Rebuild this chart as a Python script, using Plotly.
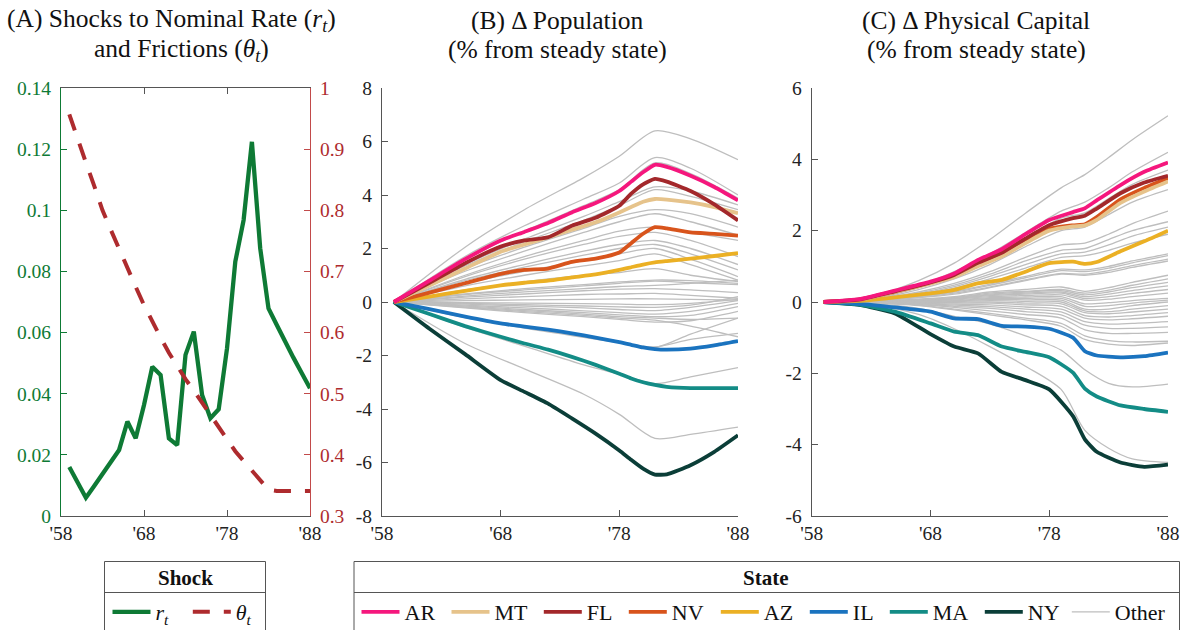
import plotly.graph_objects as go

W, H = 1185, 630
FONT = "Liberation Serif"

# ---------------- Panel A data ----------------
YEARS_A = list(range(1959, 1989))
R_T = [0.016, 0.011, 0.006, 0.0098, 0.0138, 0.0178, 0.0216, 0.0309, 0.0254, 0.0363,
       0.0488, 0.0461, 0.0254, 0.0232, 0.0527, 0.0603, 0.0396, 0.032, 0.0349, 0.0548,
       0.0832, 0.0968, 0.1224, 0.0876, 0.0679, 0.0625, 0.057, 0.0518, 0.0468, 0.0418]
THETA_T = [0.957, 0.915, 0.878, 0.840, 0.800, 0.768, 0.736, 0.706, 0.675, 0.645,
           0.617, 0.592, 0.567, 0.545, 0.524, 0.505, 0.485, 0.465, 0.445, 0.425,
           0.406, 0.390, 0.375, 0.360, 0.343, 0.341, 0.341, 0.341, 0.341, 0.341]

# ---------------- Panel B data (population, % from steady state) ----------------
HB_YEARS = [1959, 1962, 1965, 1968, 1970, 1972, 1974, 1976, 1978, 1979, 1980, 1981, 1982, 1984, 1986, 1988]
POP_AR = [0, 0.8, 1.6, 2.3, 2.62, 2.95, 3.35, 3.7, 4.15, 4.5, 4.85, 5.13, 5.05, 4.72, 4.3, 3.8]
POP_MT = [0, 0.62, 1.25, 1.88, 2.15, 2.42, 2.7, 2.98, 3.35, 3.55, 3.75, 3.85, 3.83, 3.72, 3.55, 3.32]
POP_FL = [0, 0.72, 1.45, 2.07, 2.3, 2.42, 2.85, 3.15, 3.6, 4.05, 4.4, 4.6, 4.5, 4.15, 3.65, 3.05]
POP_NV = [0, 0.35, 0.7, 1.05, 1.2, 1.25, 1.5, 1.62, 1.85, 2.2, 2.55, 2.8, 2.75, 2.6, 2.55, 2.48]
POP_AZ = [0, 0.2, 0.42, 0.62, 0.72, 0.8, 0.92, 1.03, 1.2, 1.3, 1.4, 1.48, 1.53, 1.62, 1.72, 1.83]
POP_IL = [0, -0.27, -0.55, -0.8, -0.92, -1.03, -1.17, -1.33, -1.5, -1.6, -1.7, -1.76, -1.78, -1.74, -1.62, -1.46]
POP_MA = [0, -0.45, -0.9, -1.3, -1.55, -1.78, -2.05, -2.35, -2.68, -2.86, -3.0, -3.1, -3.17, -3.22, -3.22, -3.22]
POP_NY = [0, -1.0, -1.95, -2.92, -3.36, -3.8, -4.35, -4.92, -5.55, -5.9, -6.23, -6.45, -6.44, -6.1, -5.6, -4.98]

GB_YEARS = [1959, 1965, 1970, 1975, 1978, 1981, 1984, 1988]
POP_OTHER = [
    [0, 2.05, 3.45, 4.65, 5.45, 6.4, 6.1, 5.32],
    [0, 1.7, 2.85, 3.85, 4.45, 5.4, 5.0, 4.0],
    [0, 1.6, 2.65, 3.6, 4.2, 5.2, 4.8, 3.88],
    [0, 1.4, 2.35, 3.2, 3.75, 4.3, 4.15, 3.63],
    [0, 1.35, 2.25, 3.05, 3.6, 4.2, 3.95, 3.45],
    [0, 1.25, 2.05, 2.75, 3.2, 3.45, 3.3, 2.8],
    [0, 1.15, 1.9, 2.6, 3.0, 3.3, 3.0, 2.5],
    [0, 1.0, 1.7, 2.3, 2.65, 2.8, 2.6, 2.3],
    [0, 0.95, 1.6, 2.15, 2.45, 2.6, 2.3, 1.7],
    [0, 0.85, 1.4, 1.9, 2.15, 2.3, 2.0, 1.4],
    [0, 0.8, 1.3, 1.75, 2.0, 2.15, 1.8, 1.2],
    [0, 0.7, 1.15, 1.55, 1.8, 2.0, 1.6, 0.95],
    [0, 0.6, 1.0, 1.35, 1.55, 1.8, 1.4, 0.82],
    [0, 0.45, 0.75, 1.0, 1.1, 1.25, 1.0, 0.76],
    [0, 0.3, 0.5, 0.65, 0.75, 0.82, 0.8, 0.7],
    [0, 0.28, 0.45, 0.6, 0.7, 0.78, 0.72, 0.65],
    [0, 0.22, 0.38, 0.5, 0.58, 0.62, 0.7, 0.82],
    [0, 0.18, 0.3, 0.42, 0.48, 0.5, 0.45, 0.35],
    [0, 0.12, 0.2, 0.28, 0.3, 0.32, 0.25, 0.14],
    [0, 0.05, 0.08, 0.1, 0.12, 0.12, 0.1, 0.07],
    [0, -0.02, -0.04, -0.06, -0.08, -0.1, -0.05, 0.1],
    [0, -0.05, -0.1, -0.15, -0.18, -0.2, -0.12, 0.2],
    [0, -0.08, -0.15, -0.22, -0.28, -0.32, -0.2, 0.05],
    [0, -0.12, -0.22, -0.33, -0.4, -0.45, -0.35, -0.05],
    [0, -0.15, -0.28, -0.4, -0.48, -0.55, -0.5, -0.17],
    [0, -0.18, -0.32, -0.45, -0.55, -0.6, -0.65, -0.6],
    [0, -0.2, -0.36, -0.5, -0.6, -0.68, -0.9, -1.3],
    [0, -0.22, -0.4, -0.55, -0.65, -0.75, -0.7, -0.35],
    [0, -0.55, -0.95, -1.3, -1.5, -1.68, -1.4, -1.17],
    [0, -0.58, -0.98, -1.32, -1.52, -1.7, -1.2, -0.6],
    [0, -0.95, -1.65, -2.35, -2.7, -3.05, -2.8, -2.45],
    [0, -1.55, -2.5, -3.45, -4.2, -5.1, -4.95, -4.68],
]

# ---------------- Panel C data (physical capital, % from steady state) ----------------
HC_YEARS = [1959, 1962, 1965, 1968, 1970, 1972, 1974, 1976, 1978, 1980, 1981, 1982, 1984, 1986, 1988]
CAP_AR = [0, 0.08, 0.32, 0.57, 0.8, 1.18, 1.48, 1.9, 2.3, 2.52, 2.63, 2.85, 3.28, 3.65, 3.91]
CAP_MT = [0, 0.06, 0.28, 0.52, 0.7, 1.0, 1.28, 1.65, 2.0, 2.12, 2.15, 2.3, 2.78, 3.1, 3.38]
CAP_FL = [0, 0.07, 0.3, 0.55, 0.76, 1.1, 1.38, 1.78, 2.15, 2.35, 2.42, 2.62, 3.05, 3.35, 3.54]
CAP_NV = [0, 0.06, 0.28, 0.53, 0.72, 1.03, 1.3, 1.68, 2.05, 2.15, 2.18, 2.38, 2.88, 3.2, 3.47]
CAP_AZ = [0, 0.03, 0.13, 0.24, 0.34, 0.52, 0.62, 0.85, 1.09, 1.13, 1.07, 1.12, 1.42, 1.7, 2.0]
CAP_IL = [0, -0.05, -0.15, -0.27, -0.46, -0.48, -0.67, -0.69, -0.75, -1.0, -1.38, -1.5, -1.55, -1.52, -1.42]
CAP_MA = [0, -0.07, -0.27, -0.6, -0.83, -0.93, -1.25, -1.4, -1.55, -1.98, -2.43, -2.65, -2.9, -3.0, -3.08]
CAP_NY = [0, -0.08, -0.32, -0.9, -1.25, -1.44, -1.96, -2.19, -2.45, -3.2, -3.85, -4.2, -4.5, -4.62, -4.56]

GC_YEARS = [1959, 1963, 1967, 1970, 1973, 1976, 1979, 1981, 1983, 1985, 1988]
CAP_OTHER = [
    [0, 0.15, 0.6, 1.09, 1.75, 2.49, 3.2, 3.57, 4.05, 4.55, 5.22],
    [0, 0.1, 0.45, 0.85, 1.35, 1.95, 2.55, 2.8, 3.2, 3.65, 4.2],
    [0, 0.08, 0.4, 0.75, 1.22, 1.8, 2.35, 2.5, 2.9, 3.3, 3.7],
    [0, 0.07, 0.35, 0.65, 1.05, 1.55, 2.0, 2.1, 2.45, 2.8, 3.15],
    [0, 0.06, 0.28, 0.52, 0.85, 1.25, 1.6, 1.65, 1.9, 2.2, 2.55],
    [0, 0.06, 0.25, 0.47, 0.78, 1.15, 1.45, 1.5, 1.75, 2.0, 2.25],
    [0, 0.05, 0.22, 0.43, 0.72, 1.05, 1.35, 1.4, 1.6, 1.85, 2.1],
    [0, 0.05, 0.2, 0.39, 0.65, 0.95, 1.25, 1.3, 1.45, 1.65, 1.9],
    [0, 0.04, 0.16, 0.3, 0.5, 0.72, 0.92, 0.9, 1.0, 1.15, 1.35],
    [0, 0.04, 0.15, 0.28, 0.47, 0.68, 0.88, 0.85, 0.95, 1.1, 1.3],
    [0, 0.03, 0.13, 0.25, 0.42, 0.62, 0.8, 0.78, 0.88, 1.02, 1.2],
    [0, 0.03, 0.12, 0.22, 0.4, 0.6, 0.78, 0.75, 0.83, 0.97, 1.15],
    [0, 0.02, 0.08, 0.15, 0.28, 0.35, 0.42, 0.3, 0.4, 0.55, 0.75],
    [0, 0.02, 0.07, 0.13, 0.25, 0.3, 0.35, 0.25, 0.33, 0.47, 0.65],
    [0, 0.02, 0.06, 0.12, 0.22, 0.28, 0.32, 0.2, 0.28, 0.4, 0.55],
    [0, 0.01, 0.05, 0.1, 0.2, 0.25, 0.28, 0.15, 0.22, 0.32, 0.45],
    [0, 0.01, 0.05, 0.09, 0.18, 0.22, 0.25, 0.1, 0.15, 0.24, 0.35],
    [0, 0.01, 0.04, 0.08, 0.15, 0.18, 0.2, 0.05, 0.08, 0.15, 0.25],
    [0, 0.01, 0.03, 0.06, 0.12, 0.14, 0.15, -0.05, -0.02, 0.04, 0.1],
    [0, 0.0, 0.02, 0.04, 0.1, 0.1, 0.1, -0.12, -0.1, -0.03, 0.05],
    [0, 0.0, 0.01, 0.03, 0.07, 0.06, 0.05, -0.2, -0.2, -0.1, 0.0],
    [0, 0.0, 0.0, 0.01, 0.04, 0.02, 0.0, -0.25, -0.27, -0.2, -0.1],
    [0, 0.0, -0.01, -0.01, 0.0, -0.03, -0.05, -0.3, -0.33, -0.28, -0.2],
    [0, 0.0, -0.02, -0.03, -0.03, -0.08, -0.12, -0.38, -0.42, -0.38, -0.3],
    [0, 0.0, -0.03, -0.06, -0.08, -0.14, -0.2, -0.45, -0.5, -0.47, -0.4],
    [0, -0.01, -0.04, -0.09, -0.13, -0.2, -0.28, -0.55, -0.62, -0.6, -0.55],
    [0, -0.01, -0.05, -0.12, -0.18, -0.27, -0.36, -0.65, -0.74, -0.74, -0.7],
    [0, -0.02, -0.07, -0.15, -0.25, -0.35, -0.45, -0.78, -0.88, -0.88, -0.85],
    [0, -0.02, -0.09, -0.2, -0.32, -0.45, -0.6, -0.95, -1.08, -1.12, -1.1],
    [0, -0.03, -0.1, -0.22, -0.36, -0.5, -0.68, -1.05, -1.18, -1.22, -1.15],
    [0, -0.04, -0.18, -0.4, -0.62, -0.95, -1.35, -1.9, -2.28, -2.38, -2.3],
    [0, -0.08, -0.35, -0.75, -1.25, -1.8, -2.45, -3.6, -4.1, -4.4, -4.5],
]

STATES = ["AR", "MT", "FL", "NV", "AZ", "IL", "MA", "NY"]
POP = {"AR": POP_AR, "MT": POP_MT, "FL": POP_FL, "NV": POP_NV,
       "AZ": POP_AZ, "IL": POP_IL, "MA": POP_MA, "NY": POP_NY}
CAP = {"AR": CAP_AR, "MT": CAP_MT, "FL": CAP_FL, "NV": CAP_NV,
       "AZ": CAP_AZ, "IL": CAP_IL, "MA": CAP_MA, "NY": CAP_NY}
COLORS = {"AR": "#F5177D", "MT": "#E6C38B", "FL": "#A3282B", "NV": "#D8541C",
          "AZ": "#EBB024", "IL": "#1A73BF", "MA": "#138C86", "NY": "#0B3E38"}
# legend entry widths (px of text area) so entries sit where the reference puts them
LEGEND_W = {"AR": 37, "MT": 39.3, "FL": 32, "NV": 39, "AZ": 36, "IL": 27,
            "MA": 42, "NY": 34, "Other": 60}
DRAW_ORDER = ["NY", "MA", "IL", "AZ", "NV", "MT", "FL", "AR"]
GRAY = "#BEBEBE"
GREEN = "#0E7A35"
RED = "#AE2B2E"
RED_AX = "#C24A4A"
AXC = "#555555"

XTICKS = [1958, 1968, 1978, 1988]
XTICKTEXT = ["'58", "'68", "'78", "'88"]

fig = go.Figure()

# Panel A
fig.add_trace(go.Scatter(x=YEARS_A, y=R_T, mode="lines", xaxis="x", yaxis="y",
                         line=dict(color=GREEN, width=4.3),
                         name="<i>r</i><sub><i>t</i></sub>", legend="legend", legendrank=1,
                         legendwidth=27.3))
fig.add_trace(go.Scatter(x=YEARS_A, y=THETA_T, mode="lines", xaxis="x", yaxis="y2",
                         line=dict(color=RED, width=4, dash="17px,14px"),
                         name="<i>θ</i><sub><i>t</i></sub>", legend="legend", legendrank=2,
                         legendwidth=40))

# Panels B and C
for panel, (xa, ya, hy, gy, data, other) in enumerate([
        ("x2", "y3", HB_YEARS, GB_YEARS, POP, POP_OTHER),
        ("x3", "y4", HC_YEARS, GC_YEARS, CAP, CAP_OTHER)]):
    for i, vals in enumerate(other):
        fig.add_trace(go.Scatter(x=gy, y=vals, mode="lines", xaxis=xa, yaxis=ya,
                                 line=dict(color=GRAY, width=1.3, shape="spline", smoothing=0.8),
                                 name="Other", legend="legend2", legendrank=9,
                                 legendwidth=LEGEND_W["Other"],
                                 showlegend=(panel == 0 and i == 0)))
    for s in DRAW_ORDER:
        fig.add_trace(go.Scatter(x=hy, y=data[s], mode="lines", xaxis=xa, yaxis=ya,
                                 line=dict(color=COLORS[s], width=3.8, shape="spline", smoothing=0.5),
                                 name=s, legend="legend2", legendrank=STATES.index(s) + 1,
                                 legendwidth=LEGEND_W[s], showlegend=(panel == 0)))

YDOM = [1 - 516 / H, 1 - 88 / H]
TICK_SIZE = 19.5


def xaxis_cfg(x0, x1, anchor, mirror=False):
    return dict(domain=[x0 / W, x1 / W], anchor=anchor, range=[1958, 1988],
                tickvals=XTICKS, ticktext=XTICKTEXT, ticks="inside", ticklen=6,
                tickcolor=AXC, showline=True, linecolor=AXC, linewidth=1,
                mirror=("ticks" if mirror else False), showgrid=False, zeroline=False,
                ticklabelstandoff=0,
                tickfont=dict(family=FONT, size=TICK_SIZE, color="#222222"))


def yaxis_cfg(lo, hi, step, anchor, color=AXC, fontcolor="#222222"):
    vals = []
    v = lo
    while v <= hi + 1e-9:
        vals.append(round(v, 4))
        v += step
    text = [("%g" % t) for t in vals]
    return dict(domain=YDOM, anchor=anchor, range=[lo, hi], tickvals=vals, ticktext=text,
                ticks="inside", ticklen=6, tickcolor=color, showline=True, linecolor=color,
                linewidth=1, showgrid=False, zeroline=False, ticklabelstandoff=5,
                tickfont=dict(family=FONT, size=TICK_SIZE, color=fontcolor))


fig.update_layout(
    width=W, height=H, margin=dict(l=0, r=0, t=0, b=0, autoexpand=False),
    paper_bgcolor="white", plot_bgcolor="white",
    font=dict(family=FONT, color="#111111"),
    xaxis=xaxis_cfg(61, 310, "y", mirror=True),
    yaxis=yaxis_cfg(0, 0.14, 0.02, "x", color=GREEN, fontcolor=GREEN),
    yaxis2=dict(yaxis_cfg(0.3, 1.0, 0.1, "x", color=RED_AX, fontcolor=RED),
                overlaying="y", side="right"),
    xaxis2=xaxis_cfg(382, 738, "y3"),
    yaxis3=yaxis_cfg(-8, 8, 2, "x2"),
    xaxis3=xaxis_cfg(811.7, 1168, "y4"),
    yaxis4=yaxis_cfg(-6, 6, 2, "x3"),
    legend=dict(orientation="h", x=107.5 / W, xanchor="left", y=1 - 612 / H, yanchor="middle",
                font=dict(family=FONT, size=22, color="#111111"), bgcolor="rgba(0,0,0,0)",
                borderwidth=0, itemwidth=38, entrywidthmode="pixels",
                traceorder="normal", itemclick=False, itemdoubleclick=False),
    legend2=dict(orientation="h", x=356.5 / W, xanchor="left", y=1 - 612 / H, yanchor="middle",
                 font=dict(family=FONT, size=22, color="#111111"), bgcolor="rgba(0,0,0,0)",
                 borderwidth=0, itemwidth=38, entrywidthmode="pixels",
                 traceorder="normal", itemclick=False, itemdoubleclick=False),
    showlegend=True,
)

# titles
TITLE_FONT = dict(family=FONT, size=25.5, color="#111111")
titles = [
    (171.5, 20, "(A) Shocks to Nominal Rate (<i>r</i><sub><i>t</i></sub>)"),
    (181.5, 50, "and Frictions (<i>θ</i><sub><i>t</i></sub>)"),
    (557, 20, "(B) Δ Population"),
    (557, 50, "(% from steady state)"),
    (976, 20, "(C) Δ Physical Capital"),
    (976.5, 50, "(% from steady state)"),
]
annotations = []
for xp, yp, txt in titles:
    annotations.append(dict(x=xp / W, y=1 - yp / H, xref="paper", yref="paper", text=txt,
                            showarrow=False, xanchor="center", yanchor="middle", font=TITLE_FONT))
annotations.append(dict(x=185 / W, y=1 - 578 / H, xref="paper", yref="paper", text="<b>Shock</b>",
                        showarrow=False, xanchor="center", yanchor="middle",
                        font=dict(family=FONT, size=21, color="#111111")))
annotations.append(dict(x=766 / W, y=1 - 578 / H, xref="paper", yref="paper", text="<b>State</b>",
                        showarrow=False, xanchor="center", yanchor="middle",
                        font=dict(family=FONT, size=21, color="#111111")))
fig.update_layout(annotations=annotations)

# legend boxes
BOX = "#555555"
shapes = []
for (x0, x1) in [(104.5, 265.5), (354, 1179.5)]:
    shapes.append(dict(type="rect", xref="paper", yref="paper", x0=x0 / W, x1=x1 / W,
                       y0=-0.02, y1=1 - 561.5 / H, line=dict(color=BOX, width=1),
                       fillcolor="rgba(0,0,0,0)", layer="below"))
    shapes.append(dict(type="line", xref="paper", yref="paper", x0=x0 / W, x1=x1 / W,
                       y0=1 - 592.5 / H, y1=1 - 592.5 / H, line=dict(color=BOX, width=1)))
fig.update_layout(shapes=shapes)

fig.write_html("out.html")
